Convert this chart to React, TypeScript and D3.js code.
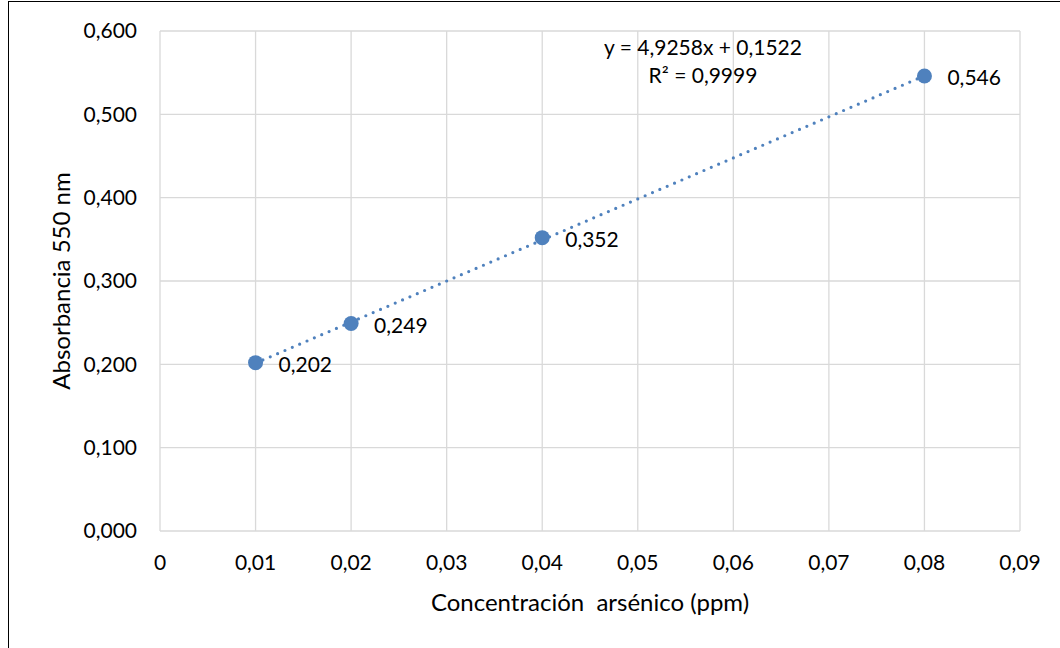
import React, { useEffect, useRef } from "react";
import * as d3 from "d3";

// values
const concentrations = [0.01, 0.02, 0.04, 0.08];
const absorbances = [0.202, 0.249, 0.352, 0.546];
const xTicks = [0, 0.01, 0.02, 0.03, 0.04, 0.05, 0.06, 0.07, 0.08, 0.09];
const yTicks = [0, 0.1, 0.2, 0.3, 0.4, 0.5, 0.6];
const slope = 4.9258;
const intercept = 0.1522;
const equationLines = ["y = 4,9258x + 0,1522", "R² = 0,9999"];

const width = 1060;
const height = 648;
const font = "Lato, 'Open Sans', sans-serif";
const blue = "#4f81bd";
const tickSize = 21;
const titleSize = 24;

export default function App() {
  const ref = useRef<SVGSVGElement>(null);

  useEffect(() => {
    document.body.style.margin = "0";
    const svg = d3.select(ref.current);
    svg.selectAll("*").remove();

    const x = d3.scaleLinear().domain([0, 0.09]).range([160, 1020]);
    const y = d3.scaleLinear().domain([0, 0.6]).range([531, 31]);
    const comma = (v: number, digits: number) =>
      v.toFixed(digits).replace(".", ",");

    // outer chart frame (cut off at right/bottom)
    svg
      .append("rect")
      .attr("x", 8.5)
      .attr("y", 1.5)
      .attr("width", width + 20)
      .attr("height", height + 20)
      .attr("fill", "white")
      .attr("stroke", "#000")
      .attr("stroke-width", 1);

    // gridlines
    const grid = svg.append("g").attr("stroke", "#d9d9d9").attr("stroke-width", 1.3);
    grid
      .selectAll("line.v")
      .data(xTicks)
      .join("line")
      .attr("x1", (d) => x(d))
      .attr("x2", (d) => x(d))
      .attr("y1", y(0))
      .attr("y2", y(0.6));
    grid
      .selectAll("line.h")
      .data(yTicks)
      .join("line")
      .attr("class", "h")
      .attr("x1", x(0))
      .attr("x2", x(0.09))
      .attr("y1", (d) => y(d))
      .attr("y2", (d) => y(d));

    // tick labels
    svg
      .append("g")
      .attr("font-family", font)
      .attr("font-size", tickSize)
      .attr("fill", "#000")
      .attr("text-anchor", "end")
      .selectAll("text")
      .data(yTicks)
      .join("text")
      .attr("x", x(0) - 23)
      .attr("y", (d) => y(d))
      .attr("dy", "0.35em")
      .text((d) => comma(d, 3));

    svg
      .append("g")
      .attr("font-family", font)
      .attr("font-size", tickSize)
      .attr("fill", "#000")
      .attr("text-anchor", "middle")
      .selectAll("text")
      .data(xTicks)
      .join("text")
      .attr("x", (d) => x(d))
      .attr("y", 570)
      .text((d) => (d === 0 ? "0" : comma(d, 2)));

    // axis titles
    svg
      .append("text")
      .attr("x", 590)
      .attr("y", 611)
      .attr("text-anchor", "middle")
      .attr("font-family", font)
      .attr("font-size", titleSize)
      .style("white-space", "pre")
      .text("Concentración  arsénico (ppm)");

    svg
      .append("text")
      .attr("transform", `translate(70,${(y(0) + y(0.6)) / 2}) rotate(-90)`)
      .attr("text-anchor", "middle")
      .attr("font-family", font)
      .attr("font-size", titleSize)
      .text("Absorbancia 550 nm");

    // trendline
    const xs = d3.extent(concentrations) as [number, number];
    svg
      .append("line")
      .attr("x1", x(xs[0]))
      .attr("y1", y(slope * xs[0] + intercept))
      .attr("x2", x(xs[1]))
      .attr("y2", y(slope * xs[1] + intercept))
      .attr("stroke", blue)
      .attr("stroke-width", 3.2)
      .attr("stroke-linecap", "round")
      .attr("stroke-dasharray", "0 8");

    // points
    const pts = concentrations.map((c, i) => ({ c, a: absorbances[i] }));
    svg
      .append("g")
      .selectAll("circle")
      .data(pts)
      .join("circle")
      .attr("cx", (d) => x(d.c))
      .attr("cy", (d) => y(d.a))
      .attr("r", 7.5)
      .attr("fill", blue);

    // data labels
    svg
      .append("g")
      .attr("font-family", font)
      .attr("font-size", tickSize)
      .attr("fill", "#000")
      .selectAll("text")
      .data(pts)
      .join("text")
      .attr("x", (d) => x(d.c) + 23)
      .attr("y", (d) => y(d.a) + 2)
      .attr("dy", "0.35em")
      .text((d) => comma(d.a, 3));

    // equation
    svg
      .append("g")
      .attr("font-family", font)
      .attr("font-size", tickSize)
      .attr("text-anchor", "middle")
      .selectAll("text")
      .data(equationLines)
      .join("text")
      .attr("x", 703)
      .attr("y", (_, i) => 55 + i * 28)
      .text((d) => d);
  }, []);

  return (
    <svg
      ref={ref}
      width={width}
      height={height}
      style={{ position: "absolute", left: 0, top: 0, display: "block" }}
    />
  );
}
